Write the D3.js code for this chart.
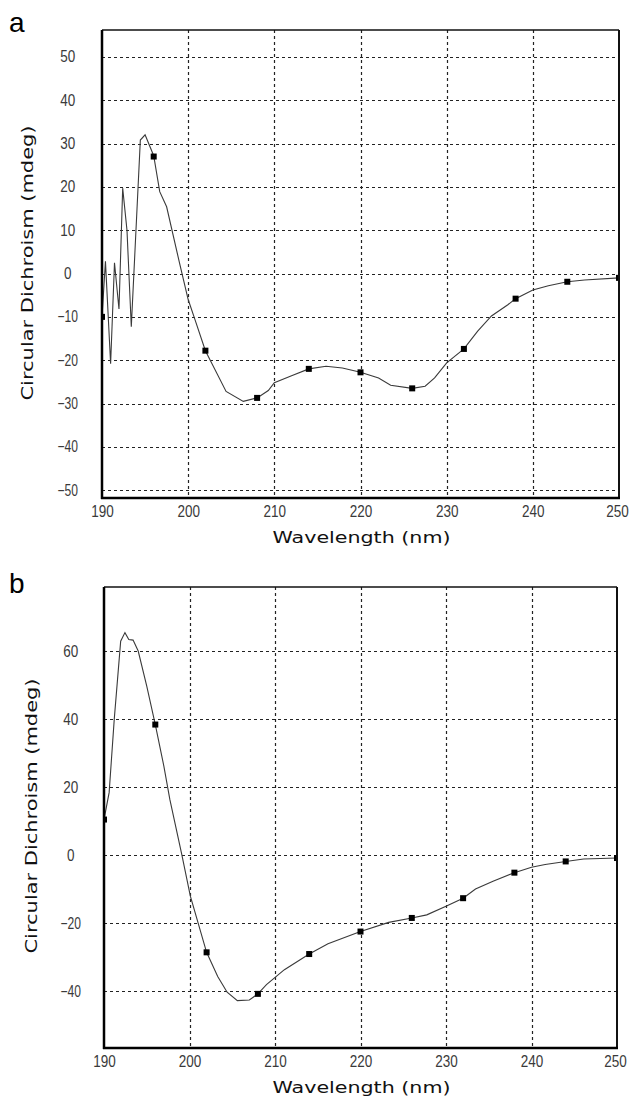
<!DOCTYPE html>
<html>
<head>
<meta charset="utf-8">
<script src="https://cdn.jsdelivr.net/npm/d3@7"></script>
<style>
  body { margin: 0; background: #fff; }
  svg { display: block; }
</style>
</head>
<body>
<svg id="chart" width="632" height="1096"></svg>
<script>
// panel a: wavelength (nm) and CD (mdeg)
const waveA = [190, 190.4, 191.0, 191.45, 191.97, 192.4, 192.9, 193.4, 194.45, 195.0, 196.0, 196.7, 197.5, 199.0, 200.0, 200.8,
  202.0, 204.4, 206.4, 208.0, 209.3, 210.0, 212.0, 214.0, 216.0, 217.9, 220.0, 222.1, 223.5, 226.0, 227.5, 228.6, 230.0,
  232.0, 233.6, 235.2, 237.1, 238.0, 240.0, 241.8, 244.0, 246.0, 250.0]
const cdA = [-10, 2.8, -20.8, 2.5, -8.2, 19.7, 10, -12.3, 30.8, 32, 27.2, 18.9, 15.4, 2.4, -6, -10.7,
  -17.8, -27.2, -29.5, -28.7, -27, -25.2, -23.6, -22, -21.4, -21.8, -22.8, -24.1, -25.8, -26.5, -26, -24.1, -20.6,
  -17.4, -13.3, -9.8, -7.2, -5.8, -3.8, -2.8, -1.9, -1.5, -1.0]

// panel b
const waveB = [190, 190.6, 191.2, 191.95, 192.45, 192.9, 193.4, 194.0, 195.0, 196.0, 197.0, 197.7, 199.1, 200.1,
  202.0, 203.3, 204.4, 205.6, 207.0, 208.0, 209.0, 211.1, 214.0, 216.2, 220.0, 223.3, 226.0, 227.75, 230.0,
  232.0, 233.45, 235.5, 238.0, 240.0, 241.6, 244.0, 246.1, 250.0]
const cdB = [10.5, 18.4, 40, 62.9, 65.4, 63.4, 63.2, 60, 49.7, 38.4, 26.2, 16.4, 0.2, -12,
  -28.5, -35.6, -40.2, -42.7, -42.5, -40.7, -38, -33.6, -29, -26, -22.4, -19.7, -18.4, -17.5, -15,
  -12.6, -9.9, -7.6, -5.1, -3.5, -2.7, -1.8, -1.1, -0.8]

// square markers every 6 nm
const markWave = [190, 196, 202, 208, 214, 220, 226, 232, 238, 244, 250]
const markA = [-10, 27, -17.8, -28.7, -22, -22.8, -26.5, -17.4, -5.8, -1.9, -1.0]
const markB = [10.5, 38.4, -28.5, -40.7, -29, -22.4, -18.4, -12.6, -5.1, -1.8, -0.8]

const xTicks = [190, 200, 210, 220, 230, 240, 250]
const yTicksA = [50, 40, 30, 20, 10, 0, -10, -20, -30, -40, -50]
const yTicksB = [60, 40, 20, 0, -20, -40]
const yDomainA = [-51.8, 56.2]
const yDomainB = [-56.6, 78.8]

const svg = d3.select('#chart')

// narrow digits: squeeze each label to the width seen in the picture
function labelWidth(s) {
	let w = 0
	for (let c of String(s)) w += (c === '-' || c === '\u2212') ? 5.5 : 7.5
	return w
}

function drawPanel(p) {
	let x = d3.scaleLinear().domain([190, 250]).range([p.left, p.right])
	let y = d3.scaleLinear().domain(p.yDomain).range([p.bottom, p.top])
	let g = svg.append('g')

	let clipId = 'clip-' + p.letter
	svg.append('clipPath').attr('id', clipId)
		.append('rect')
		.attr('x', p.left).attr('y', p.top)
		.attr('width', p.right - p.left).attr('height', p.bottom - p.top)

	// dashed grid
	g.selectAll('.vgrid')
		.data(xTicks.slice(1, -1))
		.enter().append('line')
		.attr('x1', d => Math.round(x(d)) + 0.5).attr('x2', d => Math.round(x(d)) + 0.5)
		.attr('y1', p.top).attr('y2', p.bottom)
		.attr('stroke', '#222').attr('stroke-width', 1.2)
		.attr('stroke-dasharray', '3,3')
	g.selectAll('.hgrid')
		.data(p.yTicks)
		.enter().append('line')
		.attr('x1', p.left).attr('x2', p.right)
		.attr('y1', d => Math.round(y(d)) + 0.5).attr('y2', d => Math.round(y(d)) + 0.5)
		.attr('stroke', '#222').attr('stroke-width', 1.2)
		.attr('stroke-dasharray', '3,3')

	let line = d3.line()
		.x(d => x(d[0]))
		.y(d => y(d[1]))

	let plot = g.append('g').attr('clip-path', 'url(#' + clipId + ')')
	plot.append('path')
		.datum(d3.zip(p.wave, p.cd))
		.attr('d', line)
		.attr('fill', 'none')
		.attr('stroke', '#3a3a3a')
		.attr('stroke-width', 1.1)

	plot.selectAll('rect.mark')
		.data(d3.zip(markWave, p.marks))
		.enter().append('rect')
		.attr('class', 'mark')
		.attr('x', d => x(d[0]) - 3).attr('y', d => y(d[1]) - 3)
		.attr('width', 6).attr('height', 6)
		.attr('fill', '#000')

	// frame
	g.append('line').attr('x1', p.left).attr('x2', p.right).attr('y1', p.top).attr('y2', p.top)
		.attr('stroke', '#111').attr('stroke-width', 1.5)
	g.append('line').attr('x1', p.right).attr('x2', p.right).attr('y1', p.top).attr('y2', p.bottom)
		.attr('stroke', '#111').attr('stroke-width', 2)

	let xAxis = d3.axisBottom(x).tickValues(xTicks).tickSize(0).tickPadding(8)
	let xg = g.append('g').attr('transform', `translate(0,${p.bottom})`).call(xAxis)
	xg.select('.domain').attr('stroke', '#000').attr('stroke-width', 2.5)
		.attr('d', `M${p.left - 1},0H${p.right + 1}`)
	// keep the last label inside the page
	xg.selectAll('.tick text').filter(d => d === 250).attr('x', -2)

	let yAxis = d3.axisLeft(y).tickValues(p.yTicks).tickSize(0).tickPadding(0)
	let yg = g.append('g').attr('transform', `translate(${p.left},0)`).call(yAxis)
	yg.select('.domain').attr('stroke', '#000').attr('stroke-width', 2.5)
		.attr('d', `M0,${p.top}V${p.bottom + 1}`)
	yg.selectAll('.tick text')
		.attr('text-anchor', 'middle')
		.attr('x', p.labelX - p.left)

	g.selectAll('.tick text')
		.attr('font-family', '"Liberation Sans", Arial, sans-serif')
		.attr('font-size', 16)
		.attr('fill', '#3a3a3a')
		.attr('textLength', function () { return labelWidth(this.textContent) })
		.attr('lengthAdjust', 'spacingAndGlyphs')

	g.append('text')
		.attr('x', (p.left + p.right) / 2 + 1)
		.attr('y', p.bottom + 44.5)
		.attr('text-anchor', 'middle')
		.attr('font-family', '"DejaVu Sans", Verdana, sans-serif')
		.attr('font-size', 15)
		.attr('textLength', 178).attr('lengthAdjust', 'spacingAndGlyphs')
		.attr('fill', '#111')
		.text('Wavelength (nm)')

	g.append('text')
		.attr('transform', `translate(${p.titleX},${p.titleY}) rotate(-90)`)
		.attr('text-anchor', 'middle')
		.attr('font-family', '"DejaVu Sans", Verdana, sans-serif')
		.attr('font-size', 16)
		.attr('textLength', 275).attr('lengthAdjust', 'spacingAndGlyphs')
		.attr('fill', '#111')
		.text('Circular Dichroism (mdeg)')

	g.append('text')
		.attr('x', 9).attr('y', p.letterY)
		.attr('font-family', '"Liberation Sans", Arial, sans-serif')
		.attr('font-size', 28)
		.attr('fill', '#000')
		.text(p.letter)
}

drawPanel({
	letter: 'a', letterY: 32,
	left: 102, right: 619, top: 30, bottom: 498, labelX: 67.7,
	yDomain: yDomainA, yTicks: yTicksA,
	wave: waveA, cd: cdA, marks: markA,
	titleX: 33, titleY: 263
})

drawPanel({
	letter: 'b', letterY: 593,
	left: 104, right: 617, top: 587, bottom: 1048, labelX: 70.8,
	yDomain: yDomainB, yTicks: yTicksB,
	wave: waveB, cd: cdB, marks: markB,
	titleX: 37, titleY: 816
})
</script>
</body>
</html>
